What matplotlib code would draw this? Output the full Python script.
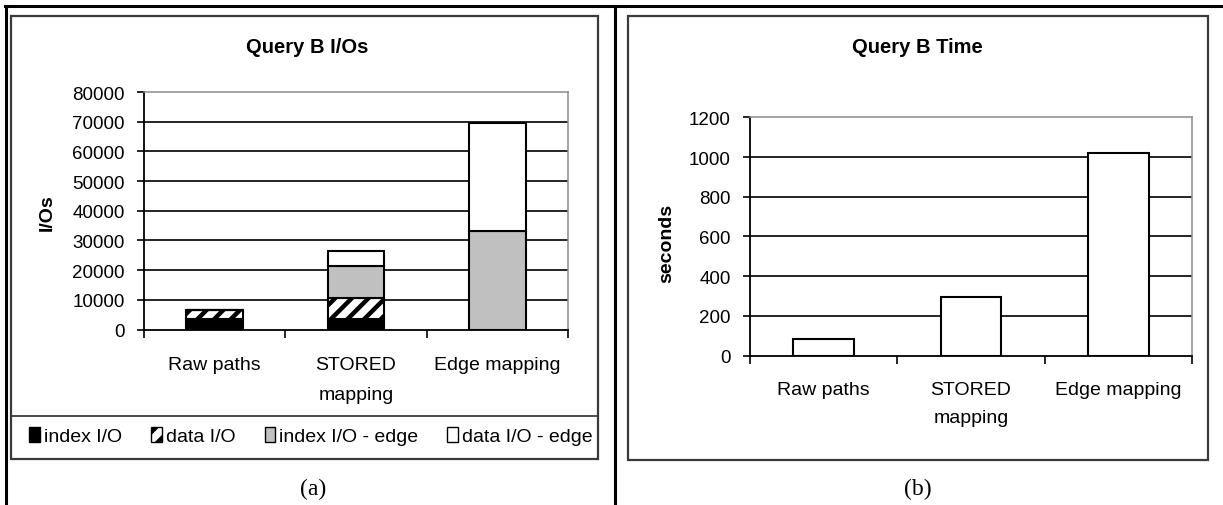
import numpy as np
import matplotlib
matplotlib.use('Agg')
import matplotlib.pyplot as plt
from matplotlib.patches import Rectangle, Patch

plt.rcParams['font.family'] = ['Liberation Sans', 'DejaVu Sans']
plt.rcParams['hatch.linewidth'] = 3.2

categories = ['Raw paths', 'STORED\nmapping', 'Edge mapping']
index_io = [3600, 3400, 0]
data_io = [2900, 7300, 0]
index_io_edge = [0, 10600, 33300]
data_io_edge = [0, 5300, 36100]
io_ticks = [0, 10000, 20000, 30000, 40000, 50000, 60000, 70000, 80000]

time_sec = [85, 297, 1020]
time_ticks = [0, 200, 400, 600, 800, 1000, 1200]

W, H = 1223, 506
fig = plt.figure(figsize=(W / 100, H / 100), dpi=100)

# page background: table lines and chart boxes, in pixel coords
bg = fig.add_axes([0, 0, 1, 1])
bg.set_xlim(0, W)
bg.set_ylim(H, 0)
bg.axis('off')
bg.plot([5, W], [6.5, 6.5], color='black', lw=2.2)
bg.plot([6, 6], [6.5, H], color='black', lw=2.2)
bg.plot([615, 615], [6.5, H], color='black', lw=2.2)
for x0, x1, y0, y1 in [(11, 598, 17, 459.5), (628, 1208, 17, 461)]:
    bg.add_patch(Rectangle((x0, y0), x1 - x0, y1 - y0, fill=False,
                           edgecolor='#3a3a3a', lw=1.6))
bg.plot([11, 598], [416.5, 416.5], color='#3a3a3a', lw=1.3)
bg.text(313, 489, '(a)', family='Liberation Serif', fontsize=17,
        ha='center', va='center')
bg.text(918, 489, '(b)', family='Liberation Serif', fontsize=17,
        ha='center', va='center')
bg.text(307, 47, 'Query B I/Os', fontsize=14.5, fontweight='bold',
        ha='center', va='center')
bg.text(917, 47, 'Query B Time', fontsize=14.5, fontweight='bold',
        ha='center', va='center')
bg.text(47, 213, 'I/Os', fontsize=14, fontweight='bold', rotation=90,
        ha='center', va='center')
bg.text(667, 243, 'seconds', fontsize=14, fontweight='bold', rotation=90,
        ha='center', va='center')


def style_axes(ax, ticks, pad, spacing):
    x = np.arange(len(categories))
    ax.set_xlim(-0.5, len(categories) - 0.5)
    ax.set_ylim(ticks[0], ticks[-1])
    ax.set_yticks(ticks)
    ax.set_yticklabels([str(t) for t in ticks])
    ax.set_xticks(np.arange(len(categories) + 1) - 0.5)
    ax.set_xticklabels([])
    ax.set_xticks(x, minor=True)
    ax.set_xticklabels(categories, minor=True, linespacing=spacing)
    ax.tick_params(axis='x', which='major', length=6, width=1.2, direction='out')
    ax.tick_params(axis='x', which='minor', length=0, pad=pad, labelsize=14)
    ax.tick_params(axis='y', length=5, width=1.2, direction='out', pad=9,
                   labelsize=13.5)
    for t in ticks[1:-1]:
        ax.axhline(t, color='black', lw=1.2, zorder=1)
    for s in ['left', 'bottom']:
        ax.spines[s].set_color('black')
        ax.spines[s].set_linewidth(1.3)
    for s in ['top', 'right']:
        ax.spines[s].set_color('#8c8c8c')
        ax.spines[s].set_linewidth(1.1)


# (a) stacked I/O bars
ax1 = fig.add_axes([144 / W, 1 - 330.5 / H, 424 / W, 237.5 / H])
style_axes(ax1, io_ticks, 19, 2.0)
x = np.arange(len(categories))
bw = 0.4
b0 = np.zeros(len(categories))
ax1.bar(x, index_io, bw, bottom=b0, color='black', edgecolor='black',
        lw=1.5, zorder=2)
b0 = b0 + np.array(index_io)
ax1.bar(x, data_io, bw, bottom=b0, color='white', edgecolor='black',
        hatch='//', lw=1.5, zorder=2)
b0 = b0 + np.array(data_io)
ax1.bar(x, index_io_edge, bw, bottom=b0, color='#c0c0c0', edgecolor='black',
        lw=1.5, zorder=2)
b0 = b0 + np.array(index_io_edge)
ax1.bar(x, data_io_edge, bw, bottom=b0, color='white', edgecolor='black',
        lw=1.5, zorder=2)

handles = [Patch(facecolor='black', edgecolor='black', lw=1),
           Patch(facecolor='white', edgecolor='black', hatch='//', lw=1),
           Patch(facecolor='#c0c0c0', edgecolor='black', lw=1),
           Patch(facecolor='white', edgecolor='black', lw=1)]
labels = ['index I/O', 'data I/O', 'index I/O - edge', 'data I/O - edge']
fig.legend(handles, labels, loc='center', ncol=4, frameon=False,
           bbox_to_anchor=(311 / W, 1 - 437 / H), fontsize=14,
           handlelength=0.55, handleheight=0.8, handletextpad=0.2,
           columnspacing=1.5, borderpad=0)

# (b) time bars
ax2 = fig.add_axes([750 / W, 1 - 356.7 / H, 442 / W, 238.4 / H])
style_axes(ax2, time_ticks, 18, 1.85)
ax2.bar(x, time_sec, 0.41, color='white', edgecolor='black', lw=1.5, zorder=2)

fig.savefig('out.png', dpi=100)
